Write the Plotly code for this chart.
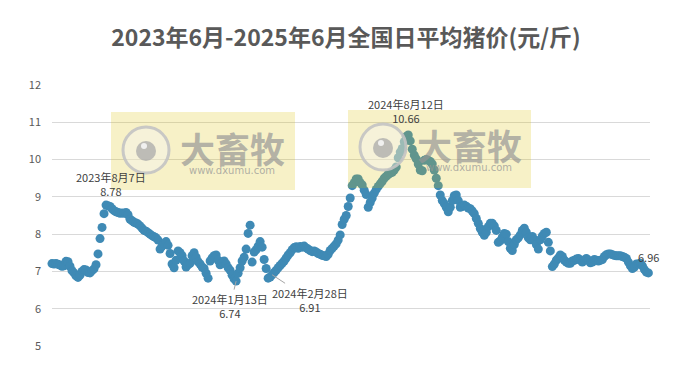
import pandas as pd
import plotly.graph_objects as go

TITLE = "2023年6月-2025年6月全国日平均猪价(元/斤)"
START_DATE = "2023-06-01"
Y_TICKS = [5, 6, 7, 8, 9, 10, 11, 12]
PRICES = [
    7.21,7.2,7.21,7.19,7.17,7.14,7.15,7.27,7.26,7.14,
    7.02,6.96,6.88,6.84,6.9,7.0,7.05,7.04,6.97,6.96,
    7.02,7.07,7.18,7.47,7.88,8.18,8.55,8.78,8.76,8.74,
    8.68,8.63,8.6,8.58,8.56,8.57,8.56,8.58,8.52,8.4,
    8.36,8.32,8.3,8.27,8.22,8.16,8.1,8.08,8.04,8.0,
    7.96,7.93,7.9,7.84,7.6,7.68,7.75,7.8,7.7,7.48,
    7.2,7.1,7.3,7.55,7.5,7.42,7.28,7.12,7.18,7.22,
    7.42,7.5,7.38,7.26,7.2,7.12,7.08,6.95,6.82,7.28,
    7.36,7.42,7.44,7.3,7.18,7.25,7.28,7.2,7.1,7.03,
    6.9,6.8,6.74,6.95,7.1,7.28,7.38,7.6,8.02,8.24,
    7.25,7.52,7.58,7.68,7.8,7.65,7.32,7.08,6.82,6.85,
    6.91,6.97,7.03,7.1,7.16,7.22,7.28,7.36,7.44,7.5,
    7.58,7.64,7.66,7.62,7.67,7.65,7.68,7.63,7.6,7.56,
    7.53,7.55,7.52,7.48,7.46,7.43,7.42,7.4,7.46,7.56,
    7.62,7.68,7.74,7.84,7.98,8.26,8.4,8.5,8.74,8.97,
    9.3,9.38,9.48,9.48,9.38,9.32,9.18,9.06,8.72,8.85,
    8.97,9.1,9.2,9.28,9.35,9.42,9.5,9.55,9.6,9.64,
    9.66,9.72,9.8,10.05,10.2,10.3,10.48,10.62,10.66,10.5,
    10.28,10.12,10.02,9.88,9.72,9.7,9.98,10.0,9.98,9.95,
    9.88,9.72,9.5,9.3,9.05,8.9,8.82,8.72,8.6,8.72,
    8.9,9.03,9.05,8.9,8.72,8.74,8.78,8.75,8.7,8.68,
    8.62,8.55,8.42,8.29,8.15,8.05,7.97,8.05,8.2,8.29,
    8.29,8.22,8.1,7.78,7.82,7.92,8.02,8.0,7.8,7.62,
    7.56,7.72,7.85,7.9,7.98,8.1,8.16,8.05,7.9,7.85,
    7.94,7.85,7.72,7.6,7.85,7.95,8.02,8.05,7.78,7.55,
    7.13,7.2,7.3,7.36,7.44,7.4,7.3,7.25,7.22,7.22,
    7.28,7.3,7.33,7.35,7.3,7.25,7.3,7.35,7.3,7.23,
    7.25,7.32,7.3,7.28,7.3,7.32,7.4,7.45,7.47,7.47,
    7.45,7.43,7.42,7.42,7.42,7.4,7.38,7.35,7.25,7.15,
    7.08,7.12,7.2,7.2,7.22,7.15,7.05,6.98,6.96,
]
dates = pd.date_range(START_DATE, periods=len(PRICES), freq="60h")

PAGE = 8  # the page's own margin
W, H = 691 - PAGE, 371 - PAGE
L, R, T, B = 52, 650, 85, 346  # target pixels of the plot area in the window
FONT = "Noto Sans CJK SC"
INK = "#404040"
BLUE = "#3f8ab5"

def px(x):
    return (x - L) / (R - L)

def py(y):
    return (B - y) / (B - T)

fig = go.Figure(go.Scatter(
    x=dates, y=PRICES, mode="markers",
    marker=dict(color=BLUE, size=9, line=dict(width=0)),
    cliponaxis=False, showlegend=False, hoverinfo="skip",
))

shapes, notes = [], []
for (x0, y0, x1, y1, cx, cy) in [(111, 112, 295, 190, 146, 150), (348, 110, 531, 188, 383, 147)]:
    shapes.append(dict(type="rect", xref="paper", yref="paper", x0=px(x0), x1=px(x1), y0=py(y1), y1=py(y0),
                       fillcolor="rgba(217,190,0,0.22)", line_width=0, layer="above"))
    shapes.append(dict(type="circle", xref="paper", yref="paper", x0=px(cx - 23), x1=px(cx + 23),
                       y0=py(cy + 23), y1=py(cy - 23), fillcolor="rgba(245,245,245,0.4)",
                       line=dict(color="rgba(195,195,195,0.9)", width=3), layer="above"))
    shapes.append(dict(type="circle", xref="paper", yref="paper", x0=px(cx - 10), x1=px(cx + 10),
                       y0=py(cy + 11), y1=py(cy - 9), fillcolor="rgba(170,170,170,0.75)", line_width=0, layer="above"))
    shapes.append(dict(type="circle", xref="paper", yref="paper", x0=px(cx - 5), x1=px(cx + 1),
                       y0=py(cy - 1), y1=py(cy - 7), fillcolor="rgba(245,245,245,0.9)", line_width=0, layer="above"))
    notes.append(dict(xref="paper", yref="paper", x=px(cx + 86), y=py(cy - 3), text="<b>大畜牧</b>", showarrow=False,
                      xanchor="center", yanchor="middle",
                      font=dict(family=FONT, size=35, color="rgba(150,150,150,0.7)")))
    notes.append(dict(xref="paper", yref="paper", x=px(cx + 86), y=py(cy + 20), text="www.dxumu.com", showarrow=False,
                      xanchor="center", yanchor="middle",
                      font=dict(family="DejaVu Sans", size=10, color="rgba(150,150,150,0.75)")))

def idx(v):
    return PRICES.index(v)

# plain labels
for text, i, dx, dy in [
    ("2023年8月7日<br>8.78", idx(8.78), 5, 21),
    ("2024年8月12日<br>10.66", idx(10.66), -2, 24),
]:
    notes.append(dict(x=dates[i], y=PRICES[i], text=text, showarrow=False, xshift=dx, yshift=dy,
                      font=dict(family=FONT, size=11, color=INK), align="center"))
notes.append(dict(x=dates[-1], y=PRICES[-1], text="6.96", showarrow=False, xshift=0, yshift=16,
                  font=dict(family=FONT, size=11, color=INK)))
# labels with leader lines
for text, i, ax, ay in [
    ("2024年1月13日<br>6.74", idx(6.74), -6, 25),
    ("2024年2月28日<br>6.91", idx(6.91), 38, 25),
]:
    notes.append(dict(x=dates[i], y=PRICES[i], text=text, showarrow=True, arrowhead=0, arrowwidth=1,
                      arrowcolor="#a6a6a6", ax=ax, ay=ay, standoff=0,
                      font=dict(family=FONT, size=11, color=INK), align="center"))

fig.update_layout(
    width=W, height=H, margin=dict(l=L - PAGE, r=W + PAGE - R, t=T - PAGE, b=H + PAGE - B),
    paper_bgcolor="white", plot_bgcolor="white",
    title=dict(text="<b>" + TITLE + "</b>", x=(346 - PAGE) / W, xanchor="center", y=1 - (38 - PAGE) / H, yanchor="middle",
               font=dict(family=FONT, size=23, color="#595959")),
    xaxis=dict(range=[dates[0], dates[0] + pd.Timedelta(days=747)], showgrid=False, showticklabels=False,
               ticks="", zeroline=False, showline=False),
    yaxis=dict(range=[5, 12], tickvals=Y_TICKS, showgrid=True, gridcolor="#d9d9d9", gridwidth=1,
               zeroline=False, showline=False, ticks="", ticklen=0, ticklabelstandoff=10,
               tickfont=dict(family=FONT, size=11, color="#595959")),
    shapes=shapes, annotations=notes,
)
fig.write_html("out.html")
